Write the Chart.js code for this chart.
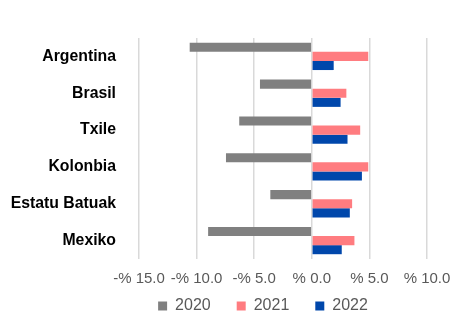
<!DOCTYPE html>
<html><head><meta charset="utf-8">
<script src="https://cdn.jsdelivr.net/npm/chart.js@4"></script>
<style>html,body{margin:0;padding:0;background:#fff}#w{width:454px;height:312px}</style>
</head><body><div id="w"><canvas id="c"></canvas></div>
<script>
const categories = ["Argentina","Brasil","Txile","Kolonbia","Estatu Batuak","Mexiko"];
const series2020 = [-10.6,-4.5,-6.3,-7.45,-3.6,-9.0];
const series2021 = [4.9,3.0,4.2,4.9,3.5,3.7];
const series2022 = [1.9,2.5,3.1,4.35,3.3,2.6];
const seriesNames = ["2020","2021","2022"];
const tickValues = [-15,-10,-5,0,5,10];
const tickLabels = ["-% 15.0","-% 10.0","-% 5.0","% 0.0","% 5.0","% 10.0"];

Chart.defaults.font.family = "'Liberation Sans', Arial, sans-serif";
const legendShift = {
  id: 'legendShift',
  afterLayout(chart) {
    const l = chart.legend;
    if (l) { l.top -= 27; l.bottom -= 27; l.left += 36; l.right += 36; }
  }
};
new Chart(document.getElementById('c'), {
  type: 'bar',
  data: {
    labels: categories,
    datasets: [
      {label: seriesNames[0], data: series2020, backgroundColor: '#808080'},
      {label: seriesNames[1], data: series2021, backgroundColor: '#FF7C80'},
      {label: seriesNames[2], data: series2022, backgroundColor: '#0047AB'}
    ]
  },
  plugins: [legendShift],
  options: {
    indexAxis: 'y',
    responsive: true,
    maintainAspectRatio: false,
    animation: false,
    datasets: {bar: {categoryPercentage: 0.74, barPercentage: 1.0}},
    layout: {padding: {top: 38, right: 0, left: 0, bottom: -39}},
    plugins: {
      legend: {
        position: 'bottom',
        labels: {
          color: '#595959', font: {size: 16}, boxWidth: 9, boxHeight: 9, padding: 26
        }
      },
      tooltip: {enabled: false}
    },
    scales: {
      x: {
        min: -15, max: 10,
        afterBuildTicks: (s) => { s.ticks = tickValues.map(v => ({value: v})); },
        ticks: {
          color: '#595959', font: {size: 15}, padding: 11,
          callback: (v, i) => tickLabels[i]
        },
        grid: {color: '#d9d9d9', lineWidth: 1.5, drawTicks: false},
        border: {display: false},
        afterFit: (s) => { s.paddingRight = 27; s.paddingLeft = 0; }
      },
      y: {
        ticks: {color: '#000', font: {size: 15.8, weight: 'bold'}, padding: 15},
        grid: {display: false},
        border: {display: false},
        afterFit: (s) => { s.width = 139; }
      }
    }
  }
});
</script></body></html>
